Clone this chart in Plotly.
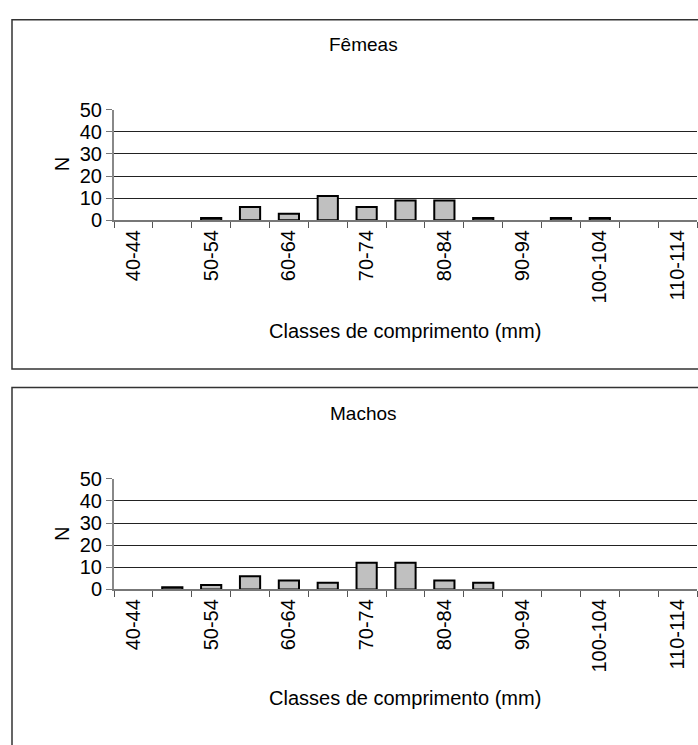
import plotly.graph_objects as go

categories = ["40-44", "45-49", "50-54", "55-59", "60-64", "65-69", "70-74", "75-79",
              "80-84", "85-89", "90-94", "95-99", "100-104", "105-109", "110-114"]
femeas = [0, 0, 1, 6, 3, 11, 6, 9, 9, 1, 0, 1, 1, 0, 0]
machos = [0, 1, 2, 6, 4, 3, 12, 12, 4, 3, 0, 0, 0, 0, 0]
tick_text = [c if i % 2 == 0 else "" for i, c in enumerate(categories)]
y_ticks = [0, 10, 20, 30, 40, 50]

W, H = 698, 745
FONT = "Liberation Sans, Arial, sans-serif"
FS = 20

def py(p):
    return 1 - p / H

def px(p):
    return p / W

def bar_trace(vals, xa, ya):
    return go.Bar(x=categories, y=vals, xaxis=xa, yaxis=ya,
                  marker=dict(color="#c0c0c0",
                              line=dict(color="black",
                                        width=[2 if v > 0 else 0 for v in vals])),
                  showlegend=False)

fig = go.Figure()
fig.add_trace(bar_trace(femeas, "x", "y"))
fig.add_trace(bar_trace(machos, "x2", "y2"))

xcommon = dict(type="category", categoryorder="array", categoryarray=categories,
               tickmode="array", tickvals=categories, ticktext=tick_text,
               tickangle=-90, ticks="outside", tickson="boundaries", ticklen=6,
               tickcolor="#555", showline=True, linecolor="#777", linewidth=1.5,
               showgrid=False, zeroline=False, range=[-0.5, 14.5],
               tickfont=dict(family=FONT, size=FS, color="black"),
               domain=[px(114), px(697)])
ycommon = dict(range=[0, 50], tickmode="array", tickvals=y_ticks,
               ticks="outside", ticklen=6, tickcolor="#777",
               showline=True, linecolor="#888", linewidth=2,
               showgrid=True, gridcolor="#222", gridwidth=1, zeroline=False,
               tickfont=dict(family=FONT, size=FS, color="black"))

fig.update_layout(
    width=W, height=H,
    margin=dict(l=0, r=0, t=0, b=0),
    paper_bgcolor="white", plot_bgcolor="white",
    bargap=0.48,
    xaxis=dict(xcommon, anchor="y"),
    yaxis=dict(ycommon, anchor="x", domain=[py(215.7), py(101.7)]),
    xaxis2=dict(xcommon, anchor="y2"),
    yaxis2=dict(ycommon, anchor="x2", domain=[py(596), py(482)]),
)

# chart boxes
fig.add_shape(type="rect", xref="paper", yref="paper",
              x0=px(12), x1=1.02, y0=py(369), y1=py(9),
              line=dict(color="#333", width=1.5), fillcolor="rgba(0,0,0,0)", layer="below")
fig.add_shape(type="rect", xref="paper", yref="paper",
              x0=px(12), x1=1.02, y0=-0.02, y1=py(388),
              line=dict(color="#333", width=1.5), fillcolor="rgba(0,0,0,0)", layer="below")

def ann(text, x, y, angle=0, size=FS):
    fig.add_annotation(text=text, xref="paper", yref="paper", x=px(x), y=py(y),
                       xanchor="center", yanchor="middle", showarrow=False,
                       textangle=angle, font=dict(family=FONT, size=size, color="black"))

ann("Fêmeas", 364, 35, size=19)
ann("N", 62, 158, -90)
ann("Classes de comprimento (mm)", 405, 330)
ann("Machos", 364, 415, size=19)
ann("N", 62, 539, -90)
ann("Classes de comprimento (mm)", 405, 708)

fig.write_html("out.html", config={"displayModeBar": False},
               post_script="document.body.style.margin='0';document.body.style.overflow='hidden';")
